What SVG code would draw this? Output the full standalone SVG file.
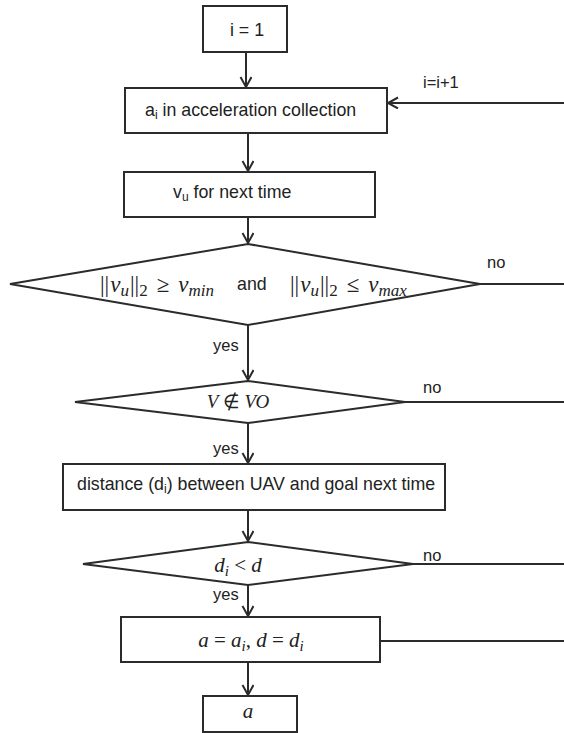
<svg xmlns="http://www.w3.org/2000/svg" width="564" height="733" viewBox="0 0 564 733">
<defs>
<marker id="arr" markerWidth="14" markerHeight="14" refX="11" refY="6" orient="auto" markerUnits="userSpaceOnUse">
<path d="M1,0.5 L11,6 L1,11.5" fill="none" stroke="#2b2b2b" stroke-width="2"/>
</marker>
<style>
.box{fill:#fff;stroke:#2b2b2b;stroke-width:2}
.ln{fill:none;stroke:#2b2b2b;stroke-width:2}
.t{font-family:"Liberation Sans",Arial,sans-serif;font-size:17.8px;fill:#222}
.s{font-family:"Liberation Sans",Arial,sans-serif;font-size:16.5px;fill:#222}
.m{font-family:"Liberation Serif","Times New Roman",serif;font-style:italic;font-size:21px;fill:#222}
.up{font-style:normal}
</style>
</defs>
<rect width="564" height="733" fill="#fff"/>
<g id="connectors">
<line class="ln" x1="246" y1="52" x2="246" y2="87" marker-end="url(#arr)"/>
<line class="ln" x1="564" y1="103" x2="388" y2="103" marker-end="url(#arr)"/>
<line class="ln" x1="248" y1="133" x2="248" y2="171" marker-end="url(#arr)"/>
<line class="ln" x1="248" y1="217" x2="248" y2="243" marker-end="url(#arr)"/>
<line class="ln" x1="480" y1="284" x2="564" y2="284"/>
<line class="ln" x1="248" y1="325" x2="248" y2="380" marker-end="url(#arr)"/>
<line class="ln" x1="405" y1="402" x2="564" y2="402"/>
<line class="ln" x1="248" y1="423" x2="248" y2="463" marker-end="url(#arr)"/>
<line class="ln" x1="248" y1="510" x2="248" y2="541" marker-end="url(#arr)"/>
<line class="ln" x1="413" y1="564" x2="564" y2="564"/>
<line class="ln" x1="248" y1="585" x2="248" y2="616" marker-end="url(#arr)"/>
<line class="ln" x1="380" y1="641" x2="564" y2="641"/>
<line class="ln" x1="248" y1="662" x2="248" y2="695" marker-end="url(#arr)"/>
<text class="s" x="423" y="88">i=i+1</text>
<text class="s" x="487" y="268">no</text>
<text class="s" x="213" y="351">yes</text>
<text class="s" x="423" y="393">no</text>
<text class="s" x="213" y="454">yes</text>
<text class="s" x="423" y="561">no</text>
<text class="s" x="213" y="600">yes</text>
</g>
<g id="n1">
<rect class="box" x="203" y="6" width="84" height="46"/>
<text class="t" x="247" y="36" text-anchor="middle">i = 1</text>
</g>
<g id="n2">
<rect class="box" x="125" y="88" width="262" height="45"/>
<text class="t" x="145" y="116">a<tspan font-size="12" dy="3">i</tspan><tspan dy="-3"> in acceleration collection</tspan></text>
</g>
<g id="n3">
<rect class="box" x="124" y="172" width="251" height="45"/>
<text class="t" x="173" y="198">v<tspan font-size="12" dy="3">u</tspan><tspan dy="-3"> for next time</tspan></text>
</g>
<g id="n4">
<polygon class="box" points="10,284 248,244 480,284 248,325"/>
<text class="m" x="100" y="292" style="font-size:23px"><tspan class="up">||</tspan><tspan dx="1">v</tspan><tspan font-size="17" dy="4">u</tspan><tspan class="up" dy="-4" dx="1">||</tspan><tspan class="up" font-size="17" dy="4">2</tspan><tspan class="up" dy="-4" dx="9">≥</tspan><tspan dx="9">v</tspan><tspan font-size="17" dy="4">min</tspan></text>
<text class="t" x="237" y="290">and</text>
<text class="m" x="290" y="292" style="font-size:23px"><tspan class="up">||</tspan><tspan dx="1">v</tspan><tspan font-size="17" dy="4">u</tspan><tspan class="up" dy="-4" dx="1">||</tspan><tspan class="up" font-size="17" dy="4">2</tspan><tspan class="up" dy="-4" dx="9">≤</tspan><tspan dx="9">v</tspan><tspan font-size="17" dy="4">max</tspan></text>
</g>
<g id="n5">
<polygon class="box" points="75,402 248,381 405,402 248,423"/>
<text class="m" x="238" y="408" text-anchor="middle" style="font-size:19px">V <tspan class="up">∉</tspan> VO</text>
</g>
<g id="n6">
<rect class="box" x="63" y="464" width="382" height="46"/>
<text class="t" x="77" y="490">distance (d<tspan font-size="12" dy="3">i</tspan><tspan dy="-3">) between UAV and goal next time</tspan></text>
</g>
<g id="n7">
<polygon class="box" points="83,564 248,542 413,564 248,585"/>
<text class="m" x="238" y="572" text-anchor="middle">d<tspan font-size="15" dy="4">i</tspan><tspan class="up" dy="-4"> &lt; </tspan>d</text>
</g>
<g id="n8">
<rect class="box" x="121" y="617" width="259" height="45"/>
<text class="m" x="251" y="647" text-anchor="middle">a<tspan class="up"> = </tspan>a<tspan font-size="15" dy="4">i</tspan><tspan class="up" dy="-4">, </tspan>d<tspan class="up"> = </tspan>d<tspan font-size="15" dy="4">i</tspan></text>
</g>
<g id="n9">
<rect class="box" x="203" y="696" width="94" height="36"/>
<text class="m" x="248" y="718" text-anchor="middle">a</text>
</g>
</svg>
